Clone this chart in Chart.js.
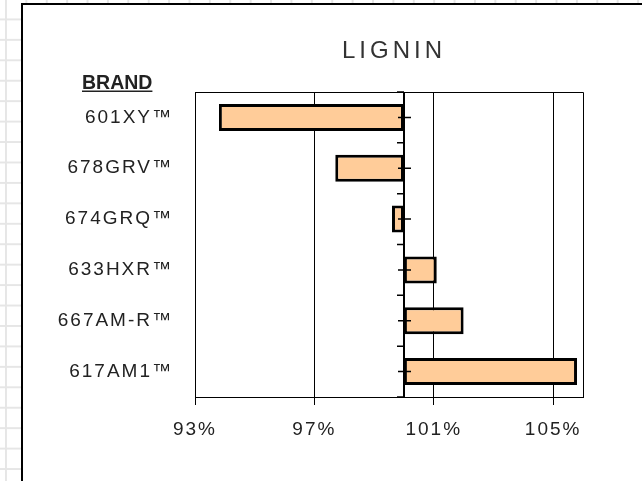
<!DOCTYPE html>
<html>
<head>
<meta charset="utf-8">
<script src="https://cdn.jsdelivr.net/npm/chart.js@4"></script>
<style>
html,body{margin:0;padding:0;}
body{
width:642px;height:481px;overflow:hidden;position:relative;background:#fff;
background-image:
linear-gradient(to right,#e6e6e6 2px,transparent 2px),
linear-gradient(to bottom,#e6e6e6 2px,transparent 2px);
background-size:20.4px 20.45px;
background-position:5px -2px;
}
#box{position:absolute;left:21px;top:3px;width:700px;height:600px;background:#fff;border:2px solid #000;}
#wrap{position:absolute;left:0;top:0;width:642px;height:481px;}
</style>
</head>
<body>
<div id="box"></div>
<div id="wrap"><canvas id="ligninChart" width="642" height="481"></canvas></div>
<script>
let brands = ["601XY™","678GRV™","674GRQ™","633HXR™","667AM-R™","617AM1™"];
let ligninPct = [93.8, 97.7, 99.6, 101.1, 102.0, 105.8];
let basePct = 100;
let xTicks = [93, 97, 101, 105];

let fontName = "'Liberation Sans', Arial, sans-serif";

// frame, title and the 100% axis with its tick marks
const decor = {
id:"decor",
beforeDraw(chart){
chart.ctx.letterSpacing = "2px";
},
beforeDatasetsDraw(chart){
let ctx = chart.ctx;
let a = chart.chartArea;
ctx.save();
ctx.strokeStyle = "#000";
ctx.lineWidth = 1;
ctx.beginPath();
ctx.moveTo(a.left, a.top + 0.5);
ctx.lineTo(a.right + 0.5, a.top + 0.5);
ctx.lineTo(a.right + 0.5, a.bottom);
ctx.stroke();
ctx.restore();
},
afterDatasetsDraw(chart){
let ctx = chart.ctx;
let a = chart.chartArea;
let xs = chart.scales.x;
let ys = chart.scales.y;
let x0 = Math.round(xs.getPixelForValue(basePct));
ctx.save();
ctx.strokeStyle = "#000";
ctx.lineWidth = 2;
ctx.beginPath();
ctx.moveTo(x0, a.top);
ctx.lineTo(x0, a.bottom);
ctx.stroke();
ctx.lineWidth = 1.5;
ctx.beginPath();
for(let i = 0; i < brands.length; i++){
let yc = ys.getPixelForValue(i);
ctx.moveTo(x0 - 6, yc);
ctx.lineTo(x0 + 7, yc);
}
for(let i = 0; i <= brands.length; i++){
let yb = ys.getPixelForValue(i - 0.5);
ctx.moveTo(x0 - 7, yb);
ctx.lineTo(x0, yb);
}
ctx.stroke();

// title
ctx.fillStyle = "#333";
ctx.font = "24px " + fontName;
ctx.letterSpacing = "4px";
ctx.textAlign = "center";
ctx.textBaseline = "middle";
ctx.fillText("LIGNIN", 394, 51);

// column header
ctx.font = "bold 19.5px " + fontName;
ctx.letterSpacing = "0px";
ctx.textAlign = "left";
ctx.textBaseline = "alphabetic";
ctx.fillStyle = "#222";
ctx.fillText("BRAND", 82, 89);
let w = ctx.measureText("BRAND").width;
ctx.fillRect(82, 90.5, w, 1.5);
ctx.restore();
}
};

new Chart(document.getElementById("ligninChart"),{
type:"bar",
data:{
labels:brands,
datasets:[{
label:"Lignin",
data:ligninPct.map(v => [basePct, v]),
backgroundColor:"#ffcc99",
borderColor:"#000",
borderWidth:3,
borderSkipped:false,
categoryPercentage:1,
barPercentage:0.53
}]
},
options:{
indexAxis:"y",
responsive:false,
animation:false,
layout:{padding:{left:21,top:92,right:59,bottom:0}},
plugins:{
legend:{display:false},
tooltip:{enabled:false},
title:{display:false}
},
scales:{
x:{
type:"linear",
min:93,
max:106,
afterBuildTicks:function(s){ s.ticks = xTicks.map(v => ({value:v})); },
afterFit:function(s){ s.height = 84; },
grid:{color:"#000",lineWidth:1,tickLength:8,drawOnChartArea:true},
border:{color:"#000",width:1},
ticks:{
callback:v => v + "%",
color:"#222",
font:{family:fontName,size:19},
padding:13,
maxRotation:0
}
},
y:{
type:"category",
offset:true,
afterFit:function(s){ s.width = 174; },
grid:{display:false},
border:{display:false},
ticks:{
color:"#222",
font:{family:fontName,size:19},
padding:14
}
}
}
},
plugins:[decor]
});
</script>
</body>
</html>
